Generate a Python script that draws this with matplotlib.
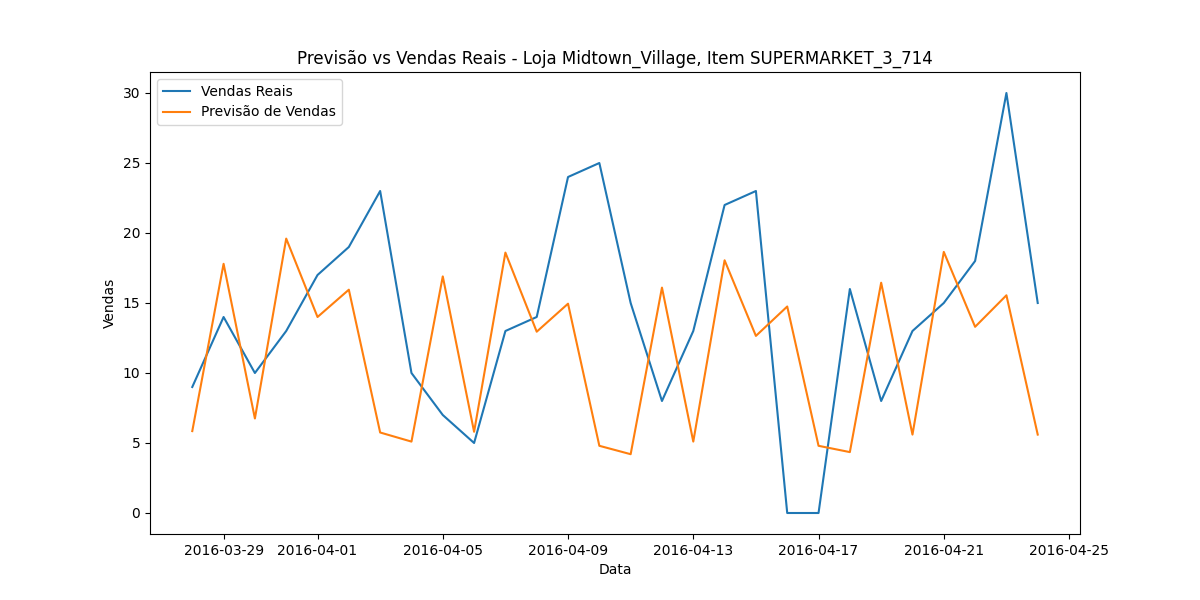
import matplotlib
matplotlib.use('Agg')
import matplotlib.pyplot as plt
import pandas as pd

datas = pd.date_range('2016-03-28', '2016-04-24', freq='D')

vendas_reais = [9, 14, 10, 13, 17, 19, 23, 10, 7, 5, 13, 14, 24, 25, 15, 8, 13,
                22, 23, 0, 0, 16, 8, 13, 15, 18, 30, 15]

previsao = [5.85, 17.8, 6.75, 19.6, 14.0, 15.95, 5.75, 5.1, 16.9, 5.8, 18.6,
            12.95, 14.95, 4.8, 4.2, 16.1, 5.1, 18.05, 12.65, 14.75, 4.8, 4.35,
            16.45, 5.6, 18.65, 13.3, 15.55, 5.6]

plt.figure(figsize=(12, 6))
plt.plot(datas, vendas_reais, label='Vendas Reais')
plt.plot(datas, previsao, label='Previsão de Vendas')
plt.title('Previsão vs Vendas Reais - Loja Midtown_Village, Item SUPERMARKET_3_714')
plt.xlabel('Data')
plt.ylabel('Vendas')
plt.legend(loc='upper left')
plt.savefig('out.png', dpi=100)
